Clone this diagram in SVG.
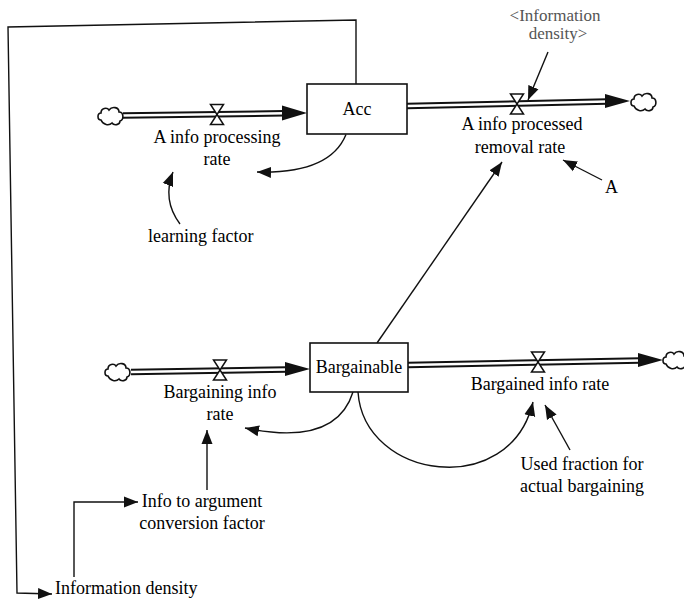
<svg xmlns="http://www.w3.org/2000/svg" width="684" height="600" viewBox="0 0 684 600">
<style>
text{font-family:"Liberation Serif","Times New Roman",serif;font-size:18px;fill:#000}
.c{text-anchor:middle}
.g{fill:#555;font-size:17px}
.box{fill:#fff;stroke:#111;stroke-width:1.6}
.po{fill:none;stroke:#111;stroke-width:6.5}
.pi{fill:none;stroke:#fff;stroke-width:2.6}
.ah{fill:#111}
.ln{fill:none;stroke:#111;stroke-width:1.4}
.valve{fill:#fff;stroke:#111;stroke-width:1.5;stroke-linejoin:miter}
.cloud{fill:#fff;stroke:#111;stroke-width:1.6}
</style>
<defs>
<marker id="arr" markerUnits="userSpaceOnUse" markerWidth="16" markerHeight="12" refX="14" refY="6" orient="auto">
<path d="M0,0.5 L14,6 L0,11.5 Z" fill="#111"/>
</marker>
<path id="cloudp" class="cloud" d="M-10,4 C-14,4 -14,-3 -10,-3 C-10,-8 -4,-9 -2,-6 C1,-10 8,-9 8,-4 C13,-4 13,4 9,5 C9,9 3,10 1,7 C-2,10 -8,9 -10,4 Z"/>
<path id="valvep" class="valve" d="M-6.5,-10 L6.5,-10 L-6.5,10 L6.5,10 Z"/>
</defs>
<rect width="684" height="600" fill="#fff"/>

<g id="connectors">
<path class="po" d="M123,115.5 L284,113.3"/><path class="pi" d="M123,115.5 L284,113.3"/>
<polygon class="ah" points="282,105.5 307,113 282,120.5"/>
<path class="po" d="M407,106 L607,101.5"/><path class="pi" d="M407,106 L607,101.5"/>
<polygon class="ah" points="605,94 630,101 605,108"/>
<path class="po" d="M131,372 L287,369.5"/><path class="pi" d="M131,372 L287,369.5"/>
<polygon class="ah" points="285,362 310,369 285,376"/>
<path class="po" d="M408,365 L640,360.5"/><path class="pi" d="M408,365 L640,360.5"/>
<polygon class="ah" points="638,353 663,360 638,367"/>
<path class="ln" d="M346,134.5 Q330,174 257,172" marker-end="url(#arr)"/>
<path class="ln" d="M180,224 Q162,200 173,172" marker-end="url(#arr)"/>
<path class="ln" d="M548,52 L528,100" marker-end="url(#arr)"/>
<path class="ln" d="M602,180 L563,160" marker-end="url(#arr)"/>
<path class="ln" d="M377,343 L502,162" marker-end="url(#arr)"/>
<path class="ln" d="M353,392 Q336,447 245,428" marker-end="url(#arr)"/>
<path class="ln" d="M358,392 C364,480 510,500 533,402" marker-end="url(#arr)"/>
<path class="ln" d="M570,450 L545,405" marker-end="url(#arr)"/>
<path class="ln" d="M207,490 L207,430" marker-end="url(#arr)"/>
<path class="ln" d="M74,577 L74,502 L138,502" marker-end="url(#arr)"/>
<path class="ln" d="M356,84 L356,20 L8,27 L17,593 L52,594" marker-end="url(#arr)"/>
</g>

<g id="cloud1"><use href="#cloudp" x="111" y="116"/></g>
<g id="cloud2"><use href="#cloudp" x="644" y="102"/></g>
<g id="cloud3"><use href="#cloudp" x="118" y="372"/></g>
<g id="cloud4"><use href="#cloudp" x="676" y="360"/></g>

<g id="acc">
<rect class="box" x="307" y="84" width="100" height="50"/>
<text class="c" x="357" y="115">Acc</text>
</g>
<g id="bargainable">
<rect class="box" x="310" y="343" width="98" height="49"/>
<text class="c" x="359" y="373">Bargainable</text>
</g>

<g id="a-info-processing-rate">
<use href="#valvep" x="217" y="114.5"/>
<text class="c" x="217" y="143">A info processing</text>
<text class="c" x="217" y="165">rate</text>
</g>
<g id="a-info-processed-removal-rate">
<use href="#valvep" x="517" y="104"/>
<text class="c" x="522" y="130">A info processed</text>
<text class="c" x="520" y="153">removal rate</text>
</g>
<g id="bargaining-info-rate">
<use href="#valvep" x="220" y="370"/>
<text class="c" x="220" y="398">Bargaining info</text>
<text class="c" x="220" y="420">rate</text>
</g>
<g id="bargained-info-rate">
<use href="#valvep" x="538" y="362"/>
<text class="c" x="540" y="390">Bargained info rate</text>
</g>

<g id="information-density-shadow">
<text class="c g" x="555" y="21">&lt;Information</text>
<text class="c g" x="558" y="39">density&gt;</text>
</g>
<g id="a"><text x="605" y="193">A</text></g>
<g id="learning-factor"><text x="148" y="242">learning factor</text></g>
<g id="used-fraction">
<text class="c" x="582" y="470">Used fraction for</text>
<text class="c" x="582" y="492">actual bargaining</text>
</g>
<g id="info-to-argument">
<text class="c" x="202" y="507">Info to argument</text>
<text class="c" x="202" y="529">conversion factor</text>
</g>
<g id="information-density"><text x="55" y="594">Information density</text></g>
</svg>
